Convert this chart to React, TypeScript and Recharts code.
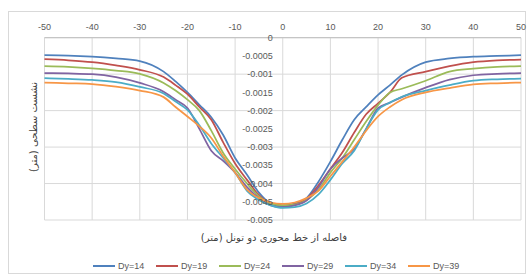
import React from 'react';
import { LineChart, Line, XAxis, YAxis, CartesianGrid, ReferenceDot } from 'recharts';

const xValues = [-50, -45, -40, -35, -30, -25, -22.5, -20, -17.5, -15, -12.5, -10, -7.5, -5, -2.5, 0, 2.5, 5, 7.5, 10, 12.5, 15, 17.5, 20, 22.5, 25, 30, 35, 40, 45, 50];

const dy14 = [-0.00048, -0.00049, -0.00052, -0.00057, -0.00064, -0.00093, -0.0012, -0.0015, -0.00184, -0.00218, -0.00267, -0.0033, -0.00376, -0.00425, -0.00455, -0.00462,
  -0.00455, -0.0044, -0.00395, -0.0034, -0.0028, -0.00225, -0.0019, -0.00157, -0.0013, -0.00102, -0.00067, -0.00057, -0.00052, -0.0005, -0.00048];
const dy19 = [-0.00059, -0.00062, -0.00067, -0.00076, -0.00088, -0.00108, -0.0013, -0.00155, -0.0019, -0.00225, -0.00287, -0.00345, -0.0039, -0.00432, -0.00455, -0.0046,
  -0.00457, -0.00442, -0.00405, -0.0036, -0.00315, -0.0026, -0.0021, -0.0018, -0.0015, -0.0011, -0.00093, -0.00078, -0.00067, -0.00062, -0.0006];
const dy24 = [-0.00078, -0.0008, -0.00084, -0.0009, -0.00099, -0.00124, -0.00145, -0.0017, -0.002, -0.00255, -0.00316, -0.0036, -0.004, -0.00435, -0.00455, -0.0046,
  -0.00458, -0.00445, -0.00417, -0.0037, -0.0033, -0.0028, -0.0023, -0.00185, -0.0015, -0.0014, -0.00118, -0.00093, -0.00085, -0.0008, -0.00078];
const dy29 = [-0.00097, -0.00098, -0.001, -0.00108, -0.00124, -0.00148, -0.0017, -0.00193, -0.0025, -0.0031, -0.00338, -0.0037, -0.0041, -0.0044, -0.0046, -0.00465,
  -0.0046, -0.00447, -0.0041, -0.0036, -0.0033, -0.00305, -0.0025, -0.00193, -0.00178, -0.00163, -0.00137, -0.00115, -0.00103, -0.00099, -0.00097];
const dy34 = [-0.00111, -0.00113, -0.00116, -0.00122, -0.00135, -0.00153, -0.00175, -0.00198, -0.0024, -0.0029, -0.0033, -0.0037, -0.0042, -0.00445, -0.0046, -0.00467,
  -0.00465, -0.00455, -0.0043, -0.0039, -0.00345, -0.0031, -0.0025, -0.00198, -0.00178, -0.00162, -0.00145, -0.0013, -0.00118, -0.00114, -0.00112];
const dy39 = [-0.00123, -0.00125, -0.00127, -0.00134, -0.00145, -0.00163, -0.0019, -0.00216, -0.00243, -0.00275, -0.00325, -0.0037, -0.00417, -0.0044, -0.00452, -0.00456,
  -0.00452, -0.0044, -0.0042, -0.0038, -0.0034, -0.003, -0.00255, -0.00216, -0.0019, -0.0017, -0.0015, -0.00138, -0.00128, -0.00125, -0.00123];

const seriesNames = ['Dy=14', 'Dy=19', 'Dy=24', 'Dy=29', 'Dy=34', 'Dy=39'];
const seriesValues = [dy14, dy19, dy24, dy29, dy34, dy39];
const colors = ['#4F81BD', '#C0504D', '#9BBB59', '#8064A2', '#4BACC6', '#F79646'];

const xTicks = [-50, -40, -30, -20, -10, 0, 10, 20, 30, 40, 50];
const yTicks = [0, -0.0005, -0.001, -0.0015, -0.002, -0.0025, -0.003, -0.0035, -0.004, -0.0045, -0.005];

const xTitle = 'فاصله از خط محوری دو تونل (متر)';
const yTitle = 'نشست سطحی (متر)';

const data = xValues.map((x, i) => {
  const row: Record<string, number> = { x };
  seriesNames.forEach((n, k) => { row[n] = seriesValues[k][i]; });
  return row;
});

const labelFont = '"Liberation Sans", Arial, sans-serif';
const textColor = '#595959';

const YTickLabel = (props: any) => {
  const { cx, cy, value } = props;
  return (
    <text x={cx - 10} y={cy} dy="0.35em" textAnchor="end" fontSize={9} fill={textColor} fontFamily={labelFont}>
      {value}
    </text>
  );
};

export default function App() {
  return (
    <div style={{ position: 'absolute', left: 0, top: 0, width: 527, height: 275, background: '#fff' }}>
      <div style={{ position: 'absolute', left: 8, top: 11, width: 518, height: 263, border: '1px solid #d9d9d9', boxSizing: 'border-box' }} />
      <div style={{ position: 'absolute', left: 0, top: 0 }}>
        <LineChart width={527} height={275} data={data} margin={{ top: 17.7, right: 6, bottom: 55, left: 44.5 }}>
          <CartesianGrid stroke="#d9d9d9" strokeWidth={1} />
          <XAxis
            dataKey="x"
            type="number"
            orientation="top"
            domain={[-50, 50]}
            ticks={xTicks}
            height={20}
            tickLine={false}
            axisLine={{ stroke: '#bfbfbf' }}
            tick={{ fontSize: 9, fill: textColor, fontFamily: labelFont }}
            interval={0}
          />
          <YAxis type="number" domain={[-0.005, 0]} ticks={yTicks} hide />
          {yTicks.map((v) => (
            <ReferenceDot key={v} x={0} y={v} r={0} shape={(p: any) => <YTickLabel {...p} value={v} />} ifOverflow="visible" />
          ))}
          {seriesNames.map((n, k) => (
            <Line key={n} dataKey={n} type="monotone" stroke={colors[k]} strokeWidth={1.75} dot={false} isAnimationActive={false} />
          ))}
        </LineChart>
      </div>
      <div style={{ position: 'absolute', left: 33, top: 127, transform: 'translate(-50%, -50%) rotate(-90deg)', whiteSpace: 'nowrap', fontFamily: '"DejaVu Sans", sans-serif', fontSize: 10, color: '#404040', direction: 'rtl' }}>
        {yTitle}
      </div>
      <div style={{ position: 'absolute', left: 274, top: 237, transform: 'translate(-50%, -50%)', whiteSpace: 'nowrap', fontFamily: '"DejaVu Sans", sans-serif', fontSize: 10, color: '#404040', direction: 'rtl' }}>
        {xTitle}
      </div>
      <div style={{ position: 'absolute', left: 93, top: 259, height: 14, display: 'flex', alignItems: 'center' }}>
        {seriesNames.map((n, k) => (
          <div key={n} style={{ width: 63, display: 'flex', alignItems: 'center' }}>
            <div style={{ width: 22, height: 2, background: colors[k] }} />
            <span style={{ marginLeft: 3, fontSize: 9, color: textColor, fontFamily: labelFont }}>{n}</span>
          </div>
        ))}
      </div>
    </div>
  );
}
